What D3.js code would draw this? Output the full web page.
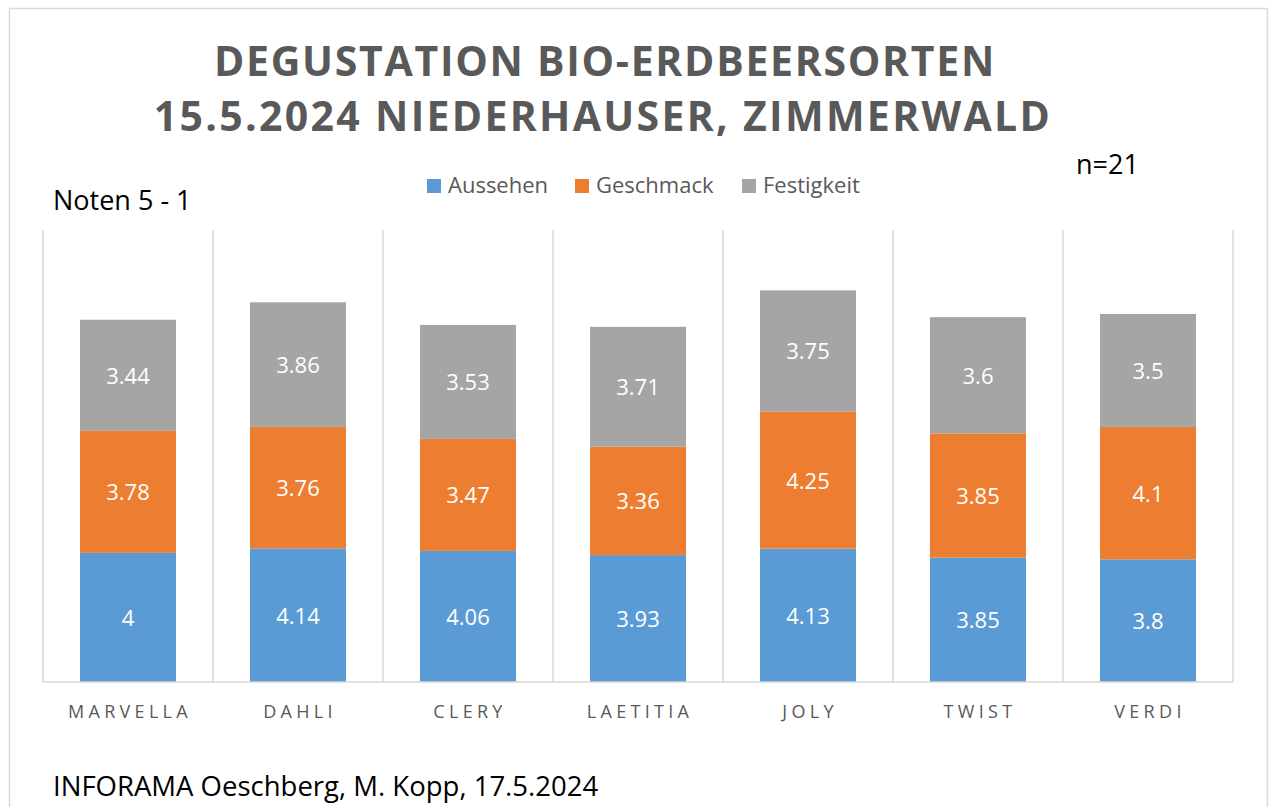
<!DOCTYPE html>
<html>
<head>
<meta charset="utf-8">
<script src="https://cdn.jsdelivr.net/npm/d3@7"></script>
<style>
  body { margin: 0; background: #fff; }
  svg { font-family: "Open Sans", "Noto Sans", sans-serif; }
</style>
</head>
<body>
<div id="chart"></div>
<script>
// data
const sorten = ["MARVELLA", "DAHLI", "CLERY", "LAETITIA", "JOLY", "TWIST", "VERDI"];
const aussehen = [4, 4.14, 4.06, 3.93, 4.13, 3.85, 3.8];
const geschmack = [3.78, 3.76, 3.47, 3.36, 4.25, 3.85, 4.1];
const festigkeit = [3.44, 3.86, 3.53, 3.71, 3.75, 3.6, 3.5];
const serien = ["Aussehen", "Geschmack", "Festigkeit"];
const farben = ["#5b9bd5", "#ed7d31", "#a5a5a5"];

const W = 1275, H = 807;
const plotL = 43, plotR = 1233, plotT = 230, plotB = 682;

const svg = d3.select("#chart").append("svg")
    .attr("width", W)
    .attr("height", H);

// chart border
svg.append("rect")
    .attr("x", 9.5).attr("y", 8.5)
    .attr("width", 1258).attr("height", 810)
    .attr("fill", "#fff")
    .attr("stroke", "#d9d9d9")
    .attr("stroke-width", 1.5);

// title
const title = svg.append("text")
    .attr("text-anchor", "middle")
    .attr("fill", "#595959")
    .style("font-size", "41px")
    .style("font-weight", "bold");
title.append("tspan").attr("x", 605).attr("y", 76)
    .style("letter-spacing", "1.7px")
    .text("DEGUSTATION BIO-ERDBEERSORTEN");
title.append("tspan").attr("x", 603).attr("y", 131)
    .style("letter-spacing", "2.3px")
    .text("15.5.2024 NIEDERHAUSER, ZIMMERWALD");

svg.append("text")
    .attr("x", 1076).attr("y", 174)
    .style("font-size", "27px")
    .attr("fill", "#000")
    .text("n=21");

svg.append("text")
    .attr("x", 53).attr("y", 210)
    .style("font-size", "27px")
    .attr("fill", "#000")
    .text("Noten 5 - 1");

svg.append("text")
    .attr("x", 53).attr("y", 796)
    .style("font-size", "27.5px")
    .attr("fill", "#000")
    .text("INFORAMA Oeschberg, M. Kopp, 17.5.2024");

// legend
const legendX = [427, 575, 742];
const legend = svg.selectAll(".legend")
    .data(serien)
    .enter().append("g")
    .attr("class", "legend")
    .attr("transform", (d, i) => `translate(${legendX[i]},179)`);
legend.append("rect")
    .attr("width", 14).attr("height", 14)
    .attr("fill", (d, i) => farben[i]);
legend.append("text")
    .attr("x", 21).attr("y", 14)
    .attr("fill", "#595959")
    .style("font-size", "22px")
    .text(d => d);

// scales
const x = d3.scaleBand()
    .domain(sorten)
    .range([plotL, plotR])
    .padding(0);

const y = d3.scaleLinear()
    .domain([0, 14])
    .range([plotB, plotT]);

// vertical gridlines at category boundaries
const grenzen = sorten.map(s => x(s)).concat([plotR]);
svg.selectAll(".grid")
    .data(grenzen)
    .enter().append("line")
    .attr("class", "grid")
    .attr("x1", d => d).attr("x2", d => d)
    .attr("y1", plotT).attr("y2", plotB)
    .attr("stroke", "#d9d9d9")
    .attr("stroke-width", 1.5);

// stacked bars
const table = sorten.map((s, i) => ({
    sorte: s, Aussehen: aussehen[i], Geschmack: geschmack[i], Festigkeit: festigkeit[i]
}));
const stack = d3.stack().keys(serien)(table);
const barW = 96;

const layers = svg.selectAll(".layer")
    .data(stack)
    .enter().append("g")
    .attr("class", "layer")
    .attr("fill", (d, i) => farben[i]);

layers.selectAll("rect")
    .data(d => d)
    .enter().append("rect")
    .attr("x", d => x(d.data.sorte) + (x.bandwidth() - barW) / 2)
    .attr("y", d => y(d[1]))
    .attr("width", barW)
    .attr("height", d => y(d[0]) - y(d[1]));

layers.selectAll("text")
    .data(d => d.map(v => ({v: v, key: d.key})))
    .enter().append("text")
    .attr("x", d => x(d.v.data.sorte) + x.bandwidth() / 2)
    .attr("y", d => (y(d.v[0]) + y(d.v[1])) / 2 + 8.5)
    .attr("text-anchor", "middle")
    .attr("fill", "#fff")
    .style("font-size", "22px")
    .text(d => d.v.data[d.key]);

// baseline
svg.append("line")
    .attr("x1", plotL).attr("x2", plotR)
    .attr("y1", plotB).attr("y2", plotB)
    .attr("stroke", "#d9d9d9")
    .attr("stroke-width", 1.5);

// category axis
const xAxis = svg.append("g")
    .attr("transform", `translate(0,${plotB})`)
    .call(d3.axisBottom(x).tickSize(0).tickPadding(23));
xAxis.select(".domain").remove();
xAxis.selectAll("text")
    .attr("fill", "#595959")
    .attr("dx", "2px")
    .style("font-family", "'Open Sans', 'Noto Sans', sans-serif")
    .style("font-size", "18px")
    .style("font-weight", "500")
    .style("letter-spacing", "4.3px");
</script>
</body>
</html>
